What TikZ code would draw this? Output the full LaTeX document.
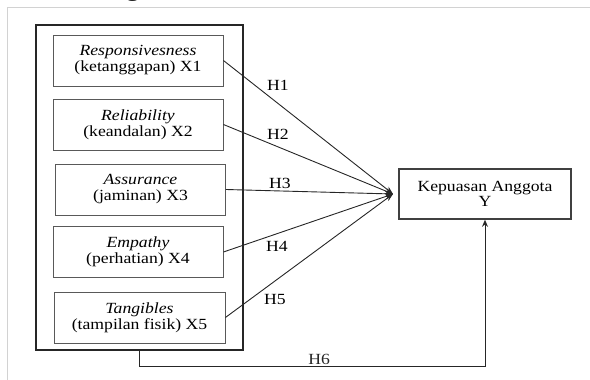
\documentclass[tikz,border=0pt]{standalone}
\usepackage{fontspec}
\setmainfont{Liberation Serif}[FakeStretch=1.14]
\usetikzlibrary{arrows.meta}

\begin{document}
\begin{tikzpicture}[
    x=1pt, y=-1pt,
    >=Stealth,
    varbox/.style={draw=black!65, line width=0.9pt, minimum width=170pt, minimum height=51pt,
        align=center, inner sep=2pt, font=\fontsize{15.5}{16}\selectfont},
    outerbox/.style={draw=black!85, line width=1.8pt, minimum width=207pt, minimum height=325pt},
    targetbox/.style={draw=black!75, line width=1.6pt, minimum width=172pt, minimum height=50pt,
        align=center, inner sep=2pt, font=\fontsize{15.5}{15}\selectfont},
    link/.style={-{Stealth[length=8pt,width=6pt]}, line width=0.9pt, black!85},
    hyp/.style={font=\fontsize{15.5}{16}\selectfont, inner sep=1pt},
    pageline/.style={gray!35, line width=0.8pt}
]
    \useasboundingbox (0,0) rectangle (590,380);

    % page frame and cut heading
    \draw[pageline] (590,7) -- (7,7) -- (7,380);
    \node[anchor=base, font=\bfseries\fontsize{22}{22}\selectfont, inner sep=0pt] (head) at (133,-3) {g};

    % group of independent variables
    \node[outerbox] (frame) at (139.5,187.5) {};
    \node[varbox] (x1) at (138,60.5)   {\textit{Responsivesness}\\(ketanggapan) X1};
    \node[varbox] (x2) at (138,124.5)  {\textit{Reliability}\\(keandalan) X2};
    \node[varbox] (x3) at (140.5,189.5) {\textit{Assurance}\\(jaminan) X3};
    \node[varbox] (x4) at (138,252)    {\textit{Empathy}\\(perhatian) X4};
    \node[varbox, minimum width=171pt] (x5) at (139.5,317.5) {\textit{Tangibles}\\(tampilan fisik) X5};

    % dependent variable
    \node[targetbox] (y) at (485,194) {Kepuasan Anggota\\Y};
    \coordinate (hub) at (393,194);

    \foreach \i in {1,...,5}
        \draw[link] (x\i.east) -- (hub);

    \node[hyp] (h1) at (278,85)  {H1};
    \node[hyp] (h2) at (278,134) {H2};
    \node[hyp] (h3) at (280,183) {H3};
    \node[hyp] (h4) at (277,246) {H4};
    \node[hyp] (h5) at (275,299) {H5};

    \draw[link, -{Stealth[length=7pt,width=6pt]}] (frame.south) -- ++(0,16) -| node[hyp, pos=0.26, above=1pt] (h6) {H6} (y.south);
\end{tikzpicture}
\end{document}
